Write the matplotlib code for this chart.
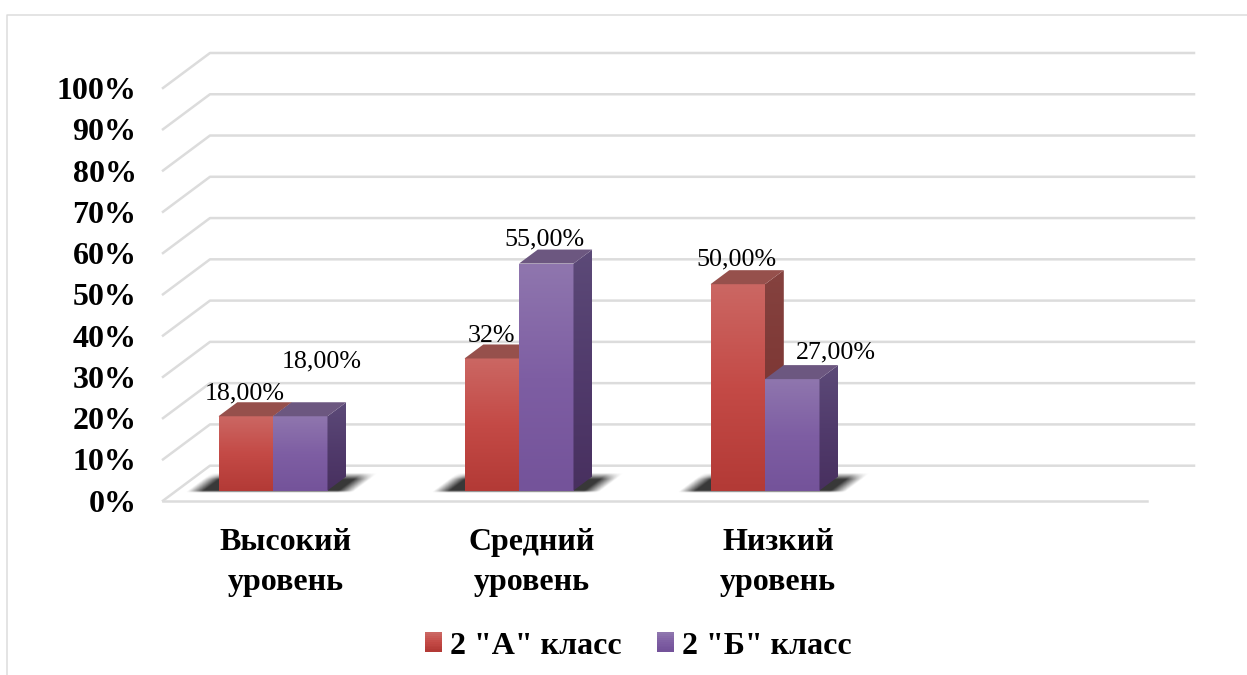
import matplotlib
matplotlib.use("Agg")
import matplotlib.pyplot as plt
import numpy as np
from matplotlib.colors import LinearSegmentedColormap
from matplotlib.legend_handler import HandlerBase
from matplotlib.lines import Line2D
from matplotlib.patches import Patch, Polygon, Rectangle

plt.rcParams["font.family"] = ["Liberation Serif", "DejaVu Serif"]

categories = ["Высокий\nуровень", "Средний\nуровень", "Низкий\nуровень", ""]
series_names = ['2 "А" класс', '2 "Б" класс']
values_a = [18, 32, 50]
values_b = [18, 55, 27]
labels_a = ["18,00%", "32%", "50,00%"]
labels_b = ["18,00%", "55,00%", "27,00%"]
y_ticks = list(range(0, 101, 10))

# label nudges in pixels from the middle of the bar top
nudges_a = [(-1, 23), (0, 22), (-1, 25)]
nudges_b = [(21, 55), (-2, 24), (44, 27)]

W, H = 1247, 675
GRID = "#DCDCDC"
BAR_W = 0.2215
BAR_SHIFT = -13.0 / 246  # front of the bars sits left of the category centre

# oblique projection: depth 0 = front wall, depth 1 = back wall
KX = 47 / 246
KY = 35 / 4.125
BAR_D0 = 0.29
BAR_D1 = 0.69

reds = {
    "front": ["#B33A36", "#C44A46", "#CB6763"],
    "side": ["#772E2B", "#7E3835", "#85423F"],
    "top": ["#8F4643", "#96504C", "#9C5652"],
}
purples = {
    "front": ["#74539A", "#7E5EA3", "#8F76AE"],
    "side": ["#48305F", "#513B6C", "#5C4A78"],
    "top": ["#665179", "#6C5780", "#725E87"],
}


def proj(x, y, depth):
    return x + depth * KX, y + depth * KY


def grad_image(ax, colors, extent, z, clip=None):
    cmap = LinearSegmentedColormap.from_list("g", colors)
    grad = np.linspace(0, 1, 128)[:, None]
    im = ax.imshow(grad, cmap=cmap, vmin=0, vmax=1, extent=extent, origin="lower",
                   aspect="auto", zorder=z, interpolation="bilinear")
    if clip is None:
        im.set_clip_on(False)
    else:
        im.set_clip_path(Polygon(clip, transform=ax.transData))
    return im


def draw_bar(ax, x0, val, pal, z):
    y0 = proj(0, 0, BAR_D0)[1]
    yt = proj(0, val, BAR_D0)[1]
    fx0 = x0 + BAR_SHIFT
    fx1 = fx0 + BAR_W
    dx = (BAR_D1 - BAR_D0) * KX
    dy = (BAR_D1 - BAR_D0) * KY
    grad_image(ax, pal["front"], [fx0, fx1, y0, yt], z)
    side = [(fx1, y0), (fx1 + dx, y0 + dy), (fx1 + dx, yt + dy), (fx1, yt)]
    grad_image(ax, pal["side"], [fx1, fx1 + dx, y0, yt + dy], z + 0.1, clip=side)
    top = [(fx0, yt), (fx1, yt), (fx1 + dx, yt + dy), (fx0 + dx, yt + dy)]
    ax.add_patch(Polygon(top, closed=True, fc=pal["top"][1], ec="none", zorder=z + 0.2, clip_on=False))
    return (fx0 + fx1) / 2, yt


def draw_shadow(ax, x0, x1, z):
    # soft dark blob lying on the floor behind the pair of bars
    left = x0 + BAR_SHIFT
    right = x1 + BAR_SHIFT
    ybot = proj(0, 0, BAR_D0)[1]
    ytop = proj(0, 0, BAR_D1)[1]
    xs = np.linspace(left - 0.18, right + 0.3, 300)
    ys = np.linspace(ybot - 0.8, ytop + 1.5, 60)
    xx, yy = np.meshgrid(xs, ys)
    t = (yy - ybot) / (ytop - ybot)
    u = xx - t * (BAR_D1 - BAR_D0) * KX
    soft = 0.065
    a_x = np.clip((u - (left - 0.125)) / soft, 0, 1) * np.clip(((right + 0.11) - u) / soft, 0, 1)
    a_y = np.clip((t + 0.15) / 0.15, 0, 1) * np.clip((1.25 - t) / 0.45, 0, 1)
    rgba = np.zeros(xx.shape + (4,))
    rgba[..., :3] = 0.15
    rgba[..., 3] = a_x * a_y * 0.92
    im = ax.imshow(rgba, extent=[xs[0], xs[-1], ys[0], ys[-1]], origin="lower",
                   aspect="auto", zorder=z, interpolation="bilinear")
    im.set_clip_on(False)


class GradHandler(HandlerBase):
    def __init__(self, colors):
        super().__init__()
        self.colors = colors

    def create_artists(self, legend, orig, xd, yd, width, height, fontsize, trans):
        cmap = LinearSegmentedColormap.from_list("g", self.colors)
        n = 10
        out = []
        for i in range(n):
            r = Rectangle((-xd, -yd + height * (1.0 - (i + 1) / n)), width, height / n + 0.3,
                          fc=cmap(1 - i / (n - 1)), ec="none", transform=trans)
            out.append(r)
        return out


fig = plt.figure(figsize=(W / 100, H / 100), dpi=100, facecolor="white")
ax = fig.add_axes([163 / W, (H - 500.7) / H, 984 / W, (500.7 - 88) / H])
ax.set_facecolor("none")
for s in ax.spines.values():
    s.set_visible(False)

# chart area border, open at the right and bottom
fig.add_artist(Line2D([7 / W, 7 / W, 1], [0, 1 - 15 / H, 1 - 15 / H], color=GRID, lw=1.1,
                      transform=fig.transFigure))

xl = (-0.5, 3.5)
for v in y_ticks:
    bx0, by = proj(xl[0], v, 1)
    bx1, _ = proj(xl[1], v, 1)
    ax.plot([xl[0], bx0, bx1], [v, by, by], color=GRID, lw=1.8, zorder=1,
            clip_on=False, solid_joinstyle="round")
ax.plot(xl, [0, 0], color=GRID, lw=1.8, zorder=1, clip_on=False)

xpos = np.arange(len(values_a))
z = 3
for i, x in enumerate(xpos):
    draw_shadow(ax, x - BAR_W, x + BAR_W, 2)
    cx, top = draw_bar(ax, x - BAR_W, values_a[i], reds, z)
    ax.annotate(labels_a[i], (cx, top), xytext=nudges_a[i], textcoords="offset pixels",
                ha="center", va="center", fontsize=18.7, color="black", zorder=10, annotation_clip=False)
    cx, top = draw_bar(ax, x, values_b[i], purples, z + 1)
    ax.annotate(labels_b[i], (cx, top), xytext=nudges_b[i], textcoords="offset pixels",
                ha="center", va="center", fontsize=18.7, color="black", zorder=10, annotation_clip=False)

ax.set_xlim(*xl)
ax.set_ylim(0, 100)
ax.set_yticks(y_ticks)
ax.set_yticklabels([f"{v}%" for v in y_ticks], fontsize=23, fontweight="bold")
ax.set_xticks(np.arange(len(categories)))
ax.set_xticklabels(categories, fontsize=23, fontweight="bold", linespacing=1.47)
ax.tick_params(axis="y", length=0, pad=19)
ax.tick_params(axis="x", length=0, pad=20)

handles = [Patch(label=series_names[0]), Patch(label=series_names[1])]
ax.legend(handles=handles, loc="center", bbox_to_anchor=(638.5 / W, 1 - 646 / H),
          bbox_transform=fig.transFigure, ncol=2, frameon=False,
          prop={"size": 23, "weight": "bold"}, handlelength=0.53, handleheight=0.53,
          handletextpad=0.25, columnspacing=1.12,
          handler_map={handles[0]: GradHandler(reds["front"]), handles[1]: GradHandler(purples["front"])})

fig.savefig("out.png", dpi=100)
